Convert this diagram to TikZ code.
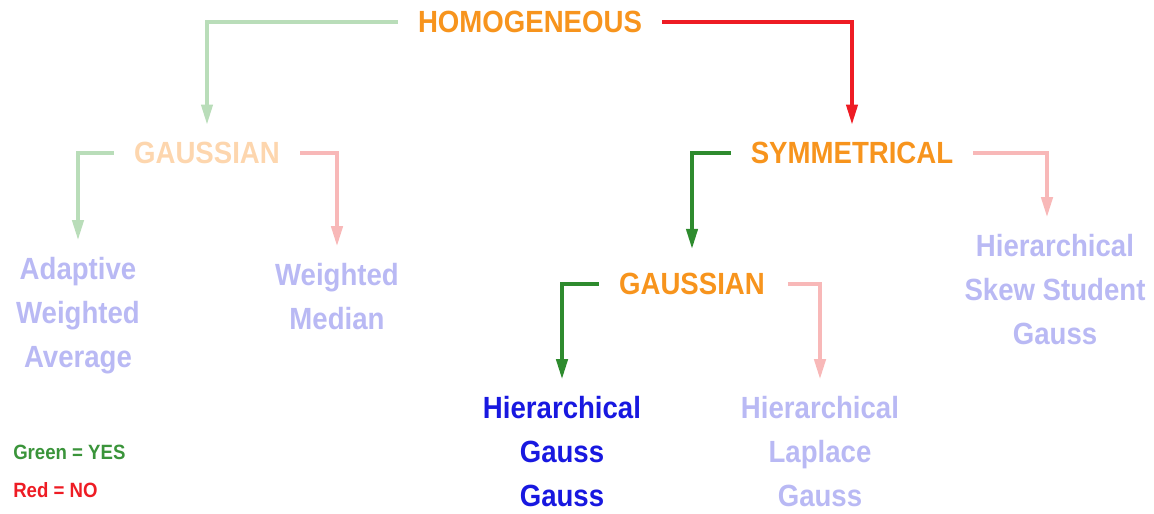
\documentclass[tikz,border=0pt]{standalone}
\usepackage{fontspec}
\setmainfont{Liberation Sans}
\newfontfamily\narrowsans[FakeStretch=0.9]{Liberation Sans}
\usetikzlibrary{arrows.meta}
\definecolor{orng}{HTML}{F7941D}
\definecolor{lorng}{HTML}{FDD6AE}
\definecolor{dgreen}{HTML}{2E8B2E}
\definecolor{lgreen}{HTML}{B9DDB9}
\definecolor{dred}{HTML}{EE1C24}
\definecolor{lred}{HTML}{F8B8B8}
\definecolor{dblue}{HTML}{1818E0}
\definecolor{lblue}{HTML}{B9B9F4}
\definecolor{legG}{HTML}{3A943A}
\begin{document}
\begin{tikzpicture}[x=0.75pt,y=-0.75pt,
  lbl/.style={font=\narrowsans\bfseries\fontsize{23}{33}\selectfont, align=center, inner sep=0pt},
  legend/.style={font=\narrowsans\bfseries\fontsize{15.5}{17}\selectfont, anchor=west, inner sep=0pt},
  conn/.style={line width=2.5pt, -{Triangle[length=15pt,width=8.5pt]}, shorten <=15pt, shorten >=13pt},
 ]
\useasboundingbox (0,0) rectangle (1154,514);
\node[lbl, text=orng] (homog) at (530,22) {HOMOGENEOUS};
\node[lbl, text=lorng] (gaussL) at (207,153) {GAUSSIAN};
\node[lbl, text=lblue] (adapt) at (78,316) {Adaptive\\Weighted\\Average};
\node[lbl, text=lblue] (wmed) at (337,297) {Weighted\\Median};
\node[lbl, text=orng] (sym) at (852,153) {SYMMETRICAL};
\node[lbl, text=lblue] (skew) at (1055,290) {Hierarchical\\Skew Student\\Gauss};
\node[lbl, text=orng] (gaussR) at (692,284) {GAUSSIAN};
\node[lbl, text=dblue] (hgg) at (562,452) {Hierarchical\\Gauss\\Gauss};
\node[lbl, text=lblue] (hlg) at (820,452) {Hierarchical\\Laplace\\Gauss};
\node[legend, text=legG] (yes) at (13,452) {Green = YES};
\node[legend, text=dred] (no) at (13,490) {Red = NO};
\draw[conn, lgreen] (homog.west) -| (gaussL.north);
\draw[conn, dred] (homog.east) -| (sym.north);
\draw[conn, lgreen] (gaussL.west) -| (adapt.north);
\draw[conn, lred] (gaussL.east) -| (wmed.north);
\draw[conn, dgreen, shorten >=18pt] (sym.west) -| (gaussR.north);
\draw[conn, lred] (sym.east) -| ([xshift=-6pt]skew.north);
\draw[conn, dgreen] (gaussR.west) -| (hgg.north);
\draw[conn, lred, shorten <=17pt] (gaussR.east) -| (hlg.north);
\end{tikzpicture}
\end{document}
